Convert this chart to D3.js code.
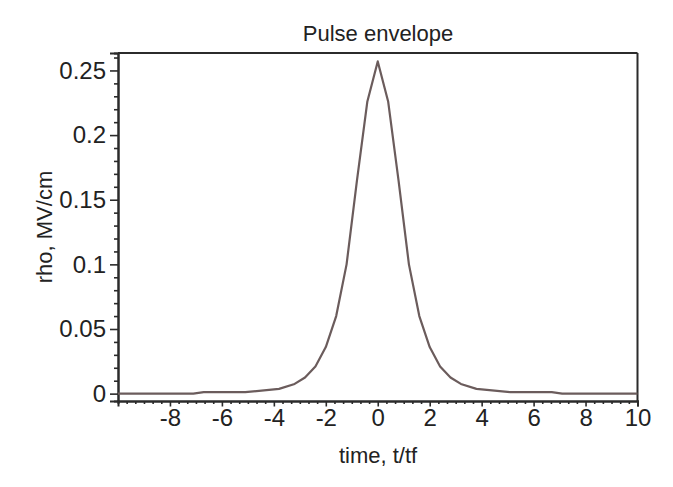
<!DOCTYPE html>
<html><head><meta charset="utf-8">
<script src="https://cdn.jsdelivr.net/npm/d3@7"></script>
<style>body{margin:0;background:#fff;} text{font-family:"Liberation Sans",Arial,Helvetica,sans-serif;fill:#222;}</style>
</head><body><svg id="c" width="673" height="487"></svg>
<script>
const tValues = [-10, -7.1, -6.7, -5.1, -3.8, -3.2, -2.8, -2.4, -2.0, -1.6, -1.2, -0.8, -0.4, 0, 0.4, 0.8, 1.2, 1.6, 2.0, 2.4, 2.8, 3.2, 3.8, 5.1, 6.7, 7.1, 10];
const rhoValues = [0, 0, 0.0011, 0.0011, 0.0037, 0.0075, 0.0125, 0.021, 0.036, 0.060, 0.100, 0.165, 0.226, 0.257, 0.226, 0.165, 0.100, 0.060, 0.036, 0.021, 0.0125, 0.0075, 0.0037, 0.0011, 0.0011, 0, 0];
const xTicks = [-8, -6, -4, -2, 0, 2, 4, 6, 8, 10];
const yTicks = [0, 0.05, 0.1, 0.15, 0.2, 0.25];
const yTickLabels = ["0", "0.05", "0.1", "0.15", "0.2", "0.25"];
const title = "Pulse envelope", xLabel = "time, t/tf", yLabel = "rho, MV/cm";

const svg = d3.select("#c");
const L = 118, R = 637.5, T = 53, B = 401;
const x = d3.scaleLinear().domain([-10, 10]).range([L, R]);
const y = d3.scaleLinear().domain([-0.0057, 0.2635]).range([B, T]);
const axisColor = "#2b2b2b";

// frame top/right
svg.append("line").attr("x1", L).attr("x2", R).attr("y1", T).attr("y2", T).attr("stroke", axisColor).attr("stroke-width", 2);
svg.append("line").attr("x1", R).attr("x2", R).attr("y1", T).attr("y2", B).attr("stroke", axisColor).attr("stroke-width", 2);

// x axis
const xMinor = d3.range(-10 + 1/3, 10, 1/3).filter(v => Math.abs(v - Math.round(v/2)*2) > 0.01);
const gx = svg.append("g").attr("transform", `translate(0,${B})`);
gx.call(d3.axisBottom(x).tickValues(xMinor).tickSize(3).tickFormat(""));
gx.append("g").call(d3.axisBottom(x).tickValues(xTicks).tickSize(5.5).tickPadding(2).tickFormat(d => d < 0 ? "-" + Math.abs(d) : d));
gx.selectAll("path.domain").attr("stroke", axisColor).attr("stroke-width", 2);
gx.selectAll("line").attr("stroke", axisColor).attr("stroke-width", 1.6);
gx.selectAll("text").attr("font-size", 24).attr("fill", "#222").attr("dy", "0.72em");

// y axis
const yMinor = d3.range(0.01, 0.265, 0.01).filter(v => Math.abs(v*20 - Math.round(v*20)) > 0.01);
const gy = svg.append("g").attr("transform", `translate(${L},0)`);
gy.call(d3.axisLeft(y).tickValues(yMinor).tickSize(4).tickFormat(""));
gy.append("g").call(d3.axisLeft(y).tickValues(yTicks).tickSize(8).tickPadding(4).tickFormat((d, i) => yTickLabels[i]));
gy.selectAll("path.domain").attr("stroke", axisColor).attr("stroke-width", 2);
gy.selectAll("line").attr("stroke", axisColor).attr("stroke-width", 1.6);
gy.selectAll("text").attr("font-size", 24).attr("fill", "#222");

// curve
const pts = tValues.map((t, i) => [t, rhoValues[i]]);
svg.append("path").datum(pts)
  .attr("d", d3.line().x(d => x(d[0])).y(d => y(d[1])))
  .attr("fill", "none").attr("stroke", "#6b5c5c").attr("stroke-width", 2.2).attr("stroke-linejoin", "round");

// titles
svg.append("text").attr("x", 378).attr("y", 41).attr("text-anchor", "middle").attr("font-size", 22).text(title);
svg.append("text").attr("x", 378).attr("y", 463).attr("text-anchor", "middle").attr("font-size", 22).text(xLabel);
svg.append("text").attr("transform", "translate(52,227) rotate(-90)").attr("text-anchor", "middle").attr("font-size", 22).text(yLabel);
</script></body></html>
